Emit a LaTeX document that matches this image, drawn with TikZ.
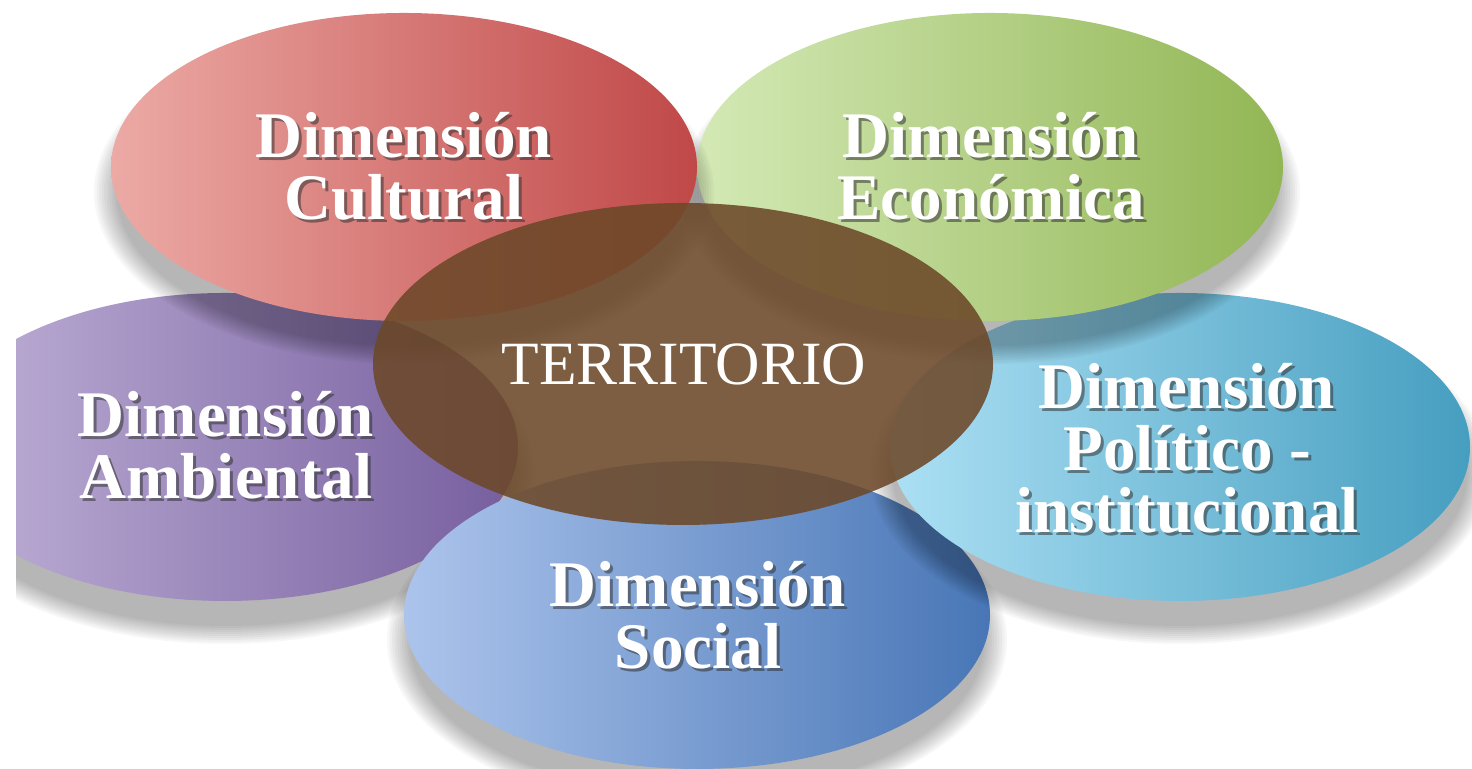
\documentclass[tikz,border=0pt]{standalone}
\usepackage{fontspec}
\setmainfont{Liberation Serif}
\usepackage{xcolor}
\usepackage{tikz}
\usetikzlibrary{calc}

\definecolor{cultL}{RGB}{236,170,165}
\definecolor{cultM}{RGB}{224,102,98}
\definecolor{cultR}{RGB}{192,72,72}
\definecolor{ecoL}{RGB}{212,233,182}
\definecolor{ecoM}{RGB}{184,219,128}
\definecolor{ecoR}{RGB}{146,182,84}
\definecolor{ambL}{RGB}{192,178,216}
\definecolor{ambM}{RGB}{160,132,198}
\definecolor{ambR}{RGB}{118,94,158}
\definecolor{socL}{RGB}{172,196,236}
\definecolor{socM}{RGB}{108,150,218}
\definecolor{socR}{RGB}{72,118,182}
\definecolor{polL}{RGB}{172,224,244}
\definecolor{polM}{RGB}{110,198,228}
\definecolor{polR}{RGB}{70,158,192}
\definecolor{terr}{RGB}{108,72,40}

\tikzset{
  dimtext/.style={font=\bfseries\fontsize{18.5}{17.6}\selectfont, align=center, text=white},
  terrtext/.style={font=\fontsize{17.5}{17.5}\selectfont, text=white},
  oval/.style={x radius=2.93, y radius=1.54},
}

% soft grey shadow under an oval
\newcommand{\ovalshadow}[1]{%
  \foreach \k in {0,...,9}{%
    \fill[black, opacity=0.03] ($(#1)+(0,-0.25)$)
      ellipse[x radius={3.10-0.025*\k}, y radius={1.72-0.02*\k}];}}

% white label with a dark drop shadow
\newcommand{\dimlabel}[3]{%
  \node[dimtext, text=black!80, opacity=0.55] (#1-sh) at ($(#2)+(0.03,-0.03)$) {#3};
  \node[dimtext] (#1) at (#2) {#3};}

\begin{document}
\begin{tikzpicture}
  \useasboundingbox (0,0) rectangle (14.72,7.69);
  \fill[white] (0,0) rectangle (14.72,7.69);
  \clip (0.16,0) rectangle (14.72,7.69);

  \coordinate (cul) at (4.04,6.02);
  \coordinate (eco) at (9.90,6.02);
  \coordinate (amb) at (2.25,3.22);
  \coordinate (pol) at (11.80,3.22);
  \coordinate (soc) at (6.97,1.54);
  \coordinate (ter) at (6.83,4.05);

  \ovalshadow{amb}
  \shade[left color=ambL, middle color=ambM, right color=ambR] (amb) ellipse[oval];
  \ovalshadow{soc}
  \shade[left color=socL, middle color=socM, right color=socR] (soc) ellipse[oval];
  \ovalshadow{pol}
  \shade[left color=polL, middle color=polM, right color=polR] (pol) ellipse[x radius=2.90, y radius=1.54];
  \ovalshadow{eco}
  \shade[left color=ecoL, middle color=ecoM, right color=ecoR] (eco) ellipse[oval];
  \ovalshadow{cul}
  \shade[left color=cultL, middle color=cultM, right color=cultR] (cul) ellipse[oval];

  \fill[terr, opacity=0.88] (ter) ellipse[x radius=3.10, y radius=1.61];

  \dimlabel{cultural}{4.04,6.03}{Dimensión\\Cultural}
  \dimlabel{economica}{9.91,6.03}{Dimensión\\Económica}
  \dimlabel{ambiental}{2.26,3.24}{Dimensión\\Ambiental}
  \dimlabel{politico}{11.87,3.21}{Dimensión\\Político -\\institucional}
  \dimlabel{social}{6.98,1.54}{Dimensión\\Social}
  \node[terrtext] (territorio) at (6.84,4.05) {TERRITORIO};
\end{tikzpicture}
\end{document}
